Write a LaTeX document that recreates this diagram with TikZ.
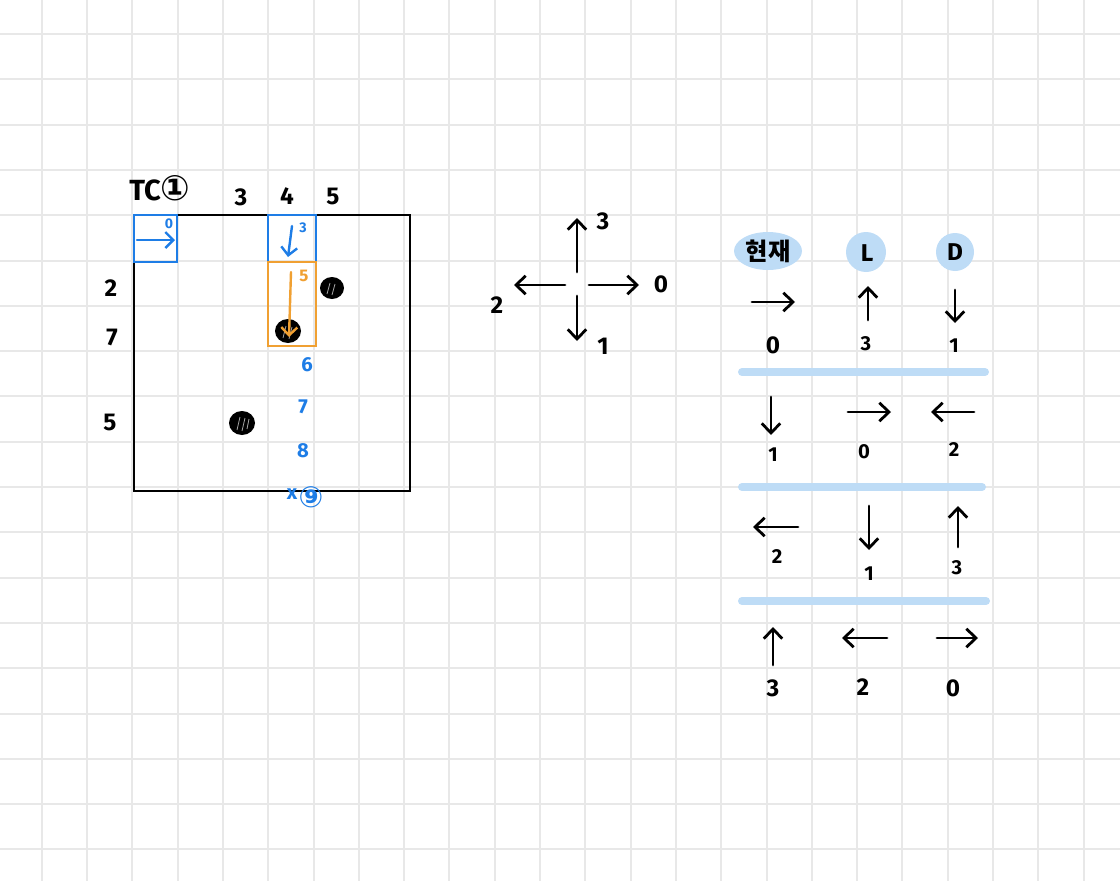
\documentclass[tikz,border=0pt]{standalone}
\usepackage{fontspec}
\setmainfont{Fira Sans}
\newfontfamily\krfont{Noto Sans CJK KR}
\newfontfamily\symfont{DejaVu Sans}
\usepackage{tikz}
\usetikzlibrary{arrows.meta}

\definecolor{gridgray}{RGB}{232,232,232}
\definecolor{penblue}{RGB}{30,125,230}
\definecolor{penorange}{RGB}{240,160,50}
\definecolor{markblue}{RGB}{190,220,246}

\begin{document}
\begin{tikzpicture}[x=0.025cm,y=-0.025cm,line width=0.4mm,
  gridline/.style={gridgray,line width=0.5mm},
  pen/.style={black,line width=0.7mm,line cap=round,-{Straight Barb[length=2.4mm,width=4.6mm]}},
  bluepen/.style={penblue,line width=0.6mm,line cap=round,-{Straight Barb[length=2mm,width=4mm]}},
  hatch/.style={gray!70,line width=0.2mm},
  every node/.style={font=\bfseries}]
\useasboundingbox (0,0) rectangle (1120,881);

%grid vertical
\draw[gridline] (41.7,0) -- (41.7,881);
\draw[gridline] (87,0) -- (87,881);
\draw[gridline] (132.3,0) -- (132.3,881);
\draw[gridline] (177.6,0) -- (177.6,881);
\draw[gridline] (222.9,0) -- (222.9,881);
\draw[gridline] (268.2,0) -- (268.2,881);
\draw[gridline] (313.5,0) -- (313.5,881);
\draw[gridline] (358.8,0) -- (358.8,881);
\draw[gridline] (404.1,0) -- (404.1,881);
\draw[gridline] (449.4,0) -- (449.4,881);
\draw[gridline] (494.7,0) -- (494.7,881);
\draw[gridline] (540,0) -- (540,881);
\draw[gridline] (585.3,0) -- (585.3,881);
\draw[gridline] (630.6,0) -- (630.6,881);
\draw[gridline] (675.9,0) -- (675.9,881);
\draw[gridline] (721.2,0) -- (721.2,881);
\draw[gridline] (766.5,0) -- (766.5,881);
\draw[gridline] (811.8,0) -- (811.8,881);
\draw[gridline] (857.1,0) -- (857.1,881);
\draw[gridline] (902.4,0) -- (902.4,881);
\draw[gridline] (947.7,0) -- (947.7,881);
\draw[gridline] (993,0) -- (993,881);
\draw[gridline] (1038.3,0) -- (1038.3,881);
\draw[gridline] (1083.6,0) -- (1083.6,881);

%grid horizontal
\draw[gridline] (0,34) -- (1120,34);
\draw[gridline] (0,79.3) -- (1120,79.3);
\draw[gridline] (0,124.6) -- (1120,124.6);
\draw[gridline] (0,169.9) -- (1120,169.9);
\draw[gridline] (0,215.2) -- (1120,215.2);
\draw[gridline] (0,260.5) -- (1120,260.5);
\draw[gridline] (0,305.8) -- (1120,305.8);
\draw[gridline] (0,351.1) -- (1120,351.1);
\draw[gridline] (0,396.4) -- (1120,396.4);
\draw[gridline] (0,441.7) -- (1120,441.7);
\draw[gridline] (0,487) -- (1120,487);
\draw[gridline] (0,532.3) -- (1120,532.3);
\draw[gridline] (0,577.6) -- (1120,577.6);
\draw[gridline] (0,622.9) -- (1120,622.9);
\draw[gridline] (0,668.2) -- (1120,668.2);
\draw[gridline] (0,713.5) -- (1120,713.5);
\draw[gridline] (0,758.8) -- (1120,758.8);
\draw[gridline] (0,804.1) -- (1120,804.1);
\draw[gridline] (0,849.4) -- (1120,849.4);

%board
\draw[black,line width=0.6mm] (134,215) rectangle (410,491);
\draw[penblue,line width=0.6mm] (134,215) rectangle (177,262);
\draw[penblue,line width=0.6mm] (268,215) rectangle (316,262);
\draw[penorange,line width=0.6mm] (268,262) rectangle (316,346);

%stones
\fill[black] (332,288) ellipse (12 and 11);
\draw[hatch] (327,294) -- (330,283);
\draw[hatch] (332,295) -- (335,284);
\fill[black] (288,331) ellipse (13 and 12);
\draw[hatch] (283,338) -- (286,326);
\draw[hatch] (289,339) -- (292,327);
\fill[black] (242,423) ellipse (13 and 12);
\draw[hatch] (237,430) -- (240,417);
\draw[hatch] (242,431) -- (245,418);
\draw[hatch] (247,429) -- (249,419);

%moves
\draw[bluepen] (137,240) -- (175,240);
\draw[bluepen] (292,226) -- (288,257);
\draw[penorange,line width=0.6mm,line cap=round,-{Straight Barb[length=2mm,width=4mm]}] (291,272) -- (289,337);

%board labels
\node (tcstart) at (160,188) {\huge TC{\symfont\Huge ①}};
\node (colthree) at (241,197) {\LARGE 3};
\node (colfour) at (287,196) {\LARGE 4};
\node (colfive) at (333,196) {\LARGE 5};
\node (rowtwo) at (111,288) {\LARGE 2};
\node (rowseven) at (112,337) {\LARGE 7};
\node (rowfive) at (110,422) {\LARGE 5};

\node[penblue] (stepzero) at (169,224) {\normalsize 0};
\node[penblue] (stepthree) at (303,228) {\normalsize 3};
\node[penorange] (stepfive) at (304,276) {\large 5};
\node[penblue] (stepsix) at (307,365) {\Large 6};
\node[penblue] (stepseven) at (303,407) {\Large 7};
\node[penblue] (stepeight) at (303,451) {\Large 8};
\node[penblue] (stepcross) at (292,494) {\Large x};
\node[penblue] (stepnine) at (311,497) {\huge{\symfont ⑨}};

%compass
\draw[pen] (577,272) -- (577,218);
\draw[pen] (589,285) -- (639,285);
\draw[pen] (565,285) -- (514,285);
\draw[pen] (577,296) -- (577,341);
\node (dirthree) at (603,221) {\LARGE 3};
\node (dirzero) at (661,284) {\LARGE 0};
\node (dirtwo) at (497,305) {\LARGE 2};
\node (dirone) at (603,346) {\LARGE 1};

%table header
\fill[markblue] (768,251) ellipse (34 and 19);
\fill[markblue] (866,252) ellipse (20 and 20);
\fill[markblue] (955,252) ellipse (19 and 19);
\node (headnow) at (768,251) {\krfont\LARGE 현재};
\node (headleft) at (867,253) {\LARGE L};
\node (headdown) at (955,252) {\LARGE D};

%table first row
\draw[pen] (752,302) -- (795,302);
\draw[pen] (868,320) -- (868,286);
\draw[pen] (955,290) -- (955,323);
\node (curzero) at (773,345) {\LARGE 0};
\node (leftthree) at (866,344) {\Large 3};
\node (downone) at (954,346) {\Large 1};
\draw[markblue,line width=2mm,line cap=round] (742,372) -- (985,372);

%table second row
\draw[pen] (771,397) -- (771,435);
\draw[pen] (848,412) -- (891,412);
\draw[pen] (974,412) -- (931,412);
\node (curone) at (773,455) {\Large 1};
\node (leftzero) at (864,452) {\Large 0};
\node (downtwo) at (954,450) {\Large 2};
\draw[markblue,line width=2mm,line cap=round] (742,487) -- (982,487);

%table third row
\draw[pen] (798,527) -- (753,527);
\draw[pen] (869,506) -- (869,550);
\draw[pen] (958,547) -- (958,506);
\node (curtwo) at (777,557) {\Large 2};
\node (leftone) at (869,574) {\Large 1};
\node (downthree) at (957,568) {\Large 3};
\draw[markblue,line width=2mm,line cap=round] (742,601) -- (986,601);

%table fourth row
\draw[pen] (773,665) -- (773,627);
\draw[pen] (887,638) -- (842,638);
\draw[pen] (937,638) -- (978,638);
\node (curthree) at (773,688) {\LARGE 3};
\node (lefttwo) at (863,687) {\LARGE 2};
\node (downzero) at (953,688) {\LARGE 0};

\end{tikzpicture}
\end{document}
